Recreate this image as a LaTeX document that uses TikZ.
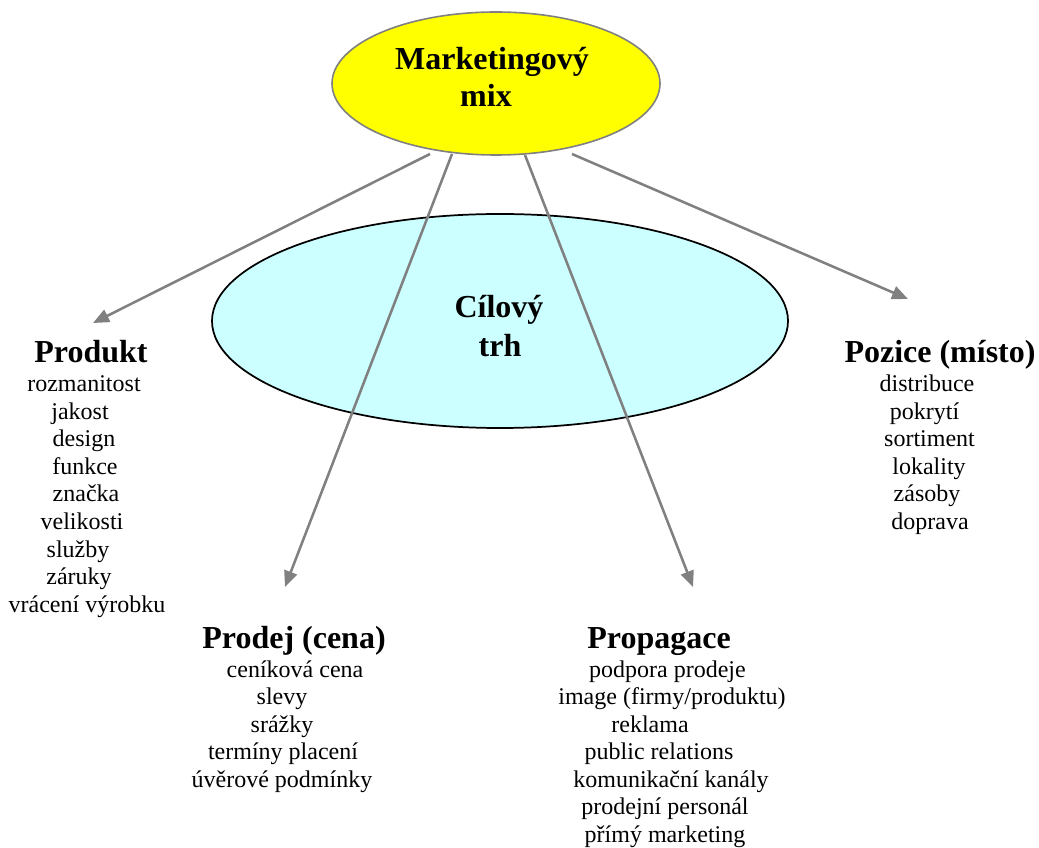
\documentclass[tikz,border=0pt]{standalone}
\usepackage{fontspec}
\setmainfont{Liberation Serif}
\usetikzlibrary{shapes.geometric,arrows.meta}
\definecolor{mixyellow}{RGB}{255,255,0}
\definecolor{trhcyan}{RGB}{204,255,255}
\definecolor{arrowgray}{RGB}{128,128,128}
\begin{document}
\begin{tikzpicture}[x=0.75pt,y=-0.75pt,
  head/.style={font=\fontsize{24}{28}\selectfont\bfseries, anchor=base, inner sep=0pt},
  item/.style={font=\fontsize{18}{20}\selectfont, anchor=base, inner sep=0pt},
  blob/.style={ellipse, inner sep=0pt},
  link/.style={draw=arrowgray, line width=1.9pt, -{Triangle[length=12pt,width=10pt]}}]
\useasboundingbox (0,0) rectangle (1039,848);

% target market ellipse
\node[blob, draw=black, line width=1.3pt, fill=trhcyan,
      minimum width=432pt, minimum height=160.5pt] (trh) at (500,321) {};
\node[head] (trh1) at (499,318) {Cílový};
\node[head] (trh2) at (500,357) {trh};

% arrow end points
\coordinate (s1) at (430,154);
\coordinate (s2) at (452,154);
\coordinate (s3) at (525,155);
\coordinate (s4) at (572,154);
\coordinate (t1) at (93,323);
\coordinate (t2) at (285,587);
\coordinate (t3) at (693,587);
\coordinate (t4) at (908,299);
\draw[link] (s1) -- (t1);
\draw[link] (s2) -- (t2);
\draw[link] (s3) -- (t3);
\draw[link] (s4) -- (t4);

% marketing mix ellipse
\node[blob, draw=arrowgray, line width=1.2pt, fill=mixyellow,
      minimum width=246pt, minimum height=107.25pt] (mix) at (496,83.5) {};
\node[head] (mix1) at (492,70) {Marketingový};
\node[head] (mix2) at (486,107) {mix};

% Produkt
\node[head] (pd) at (91,363) {Produkt};
\node[item] (pd1) at (84,392) {rozmanitost};
\node[item] (pd2) at (80,419.5) {jakost};
\node[item] (pd3) at (84,447) {design};
\node[item] (pd4) at (85,474.5) {funkce};
\node[item] (pd5) at (86,502) {značka};
\node[item] (pd6) at (82,529.5) {velikosti};
\node[item] (pd7) at (78,557) {služby};
\node[item] (pd8) at (79,584.5) {záruky};
\node[item] (pd9) at (87,612) {vrácení výrobku};

% Pozice
\node[head] (pz) at (940,363) {Pozice (místo)};
\node[item] (pz1) at (927,392) {distribuce};
\node[item] (pz2) at (924.5,419.5) {pokrytí};
\node[item] (pz3) at (929.5,447) {sortiment};
\node[item] (pz4) at (929,474.5) {lokality};
\node[item] (pz5) at (927,502) {zásoby};
\node[item] (pz6) at (930,529.5) {doprava};

% Prodej
\node[head] (pc) at (294,648) {Prodej (cena)};
\node[item] (pc1) at (295,677) {ceníková cena};
\node[item] (pc2) at (282,704.5) {slevy};
\node[item] (pc3) at (282,732) {srážky};
\node[item] (pc4) at (283,759.5) {termíny placení};
\node[item] (pc5) at (282,787) {úvěrové podmínky};

% Propagace
\node[head] (pg) at (659,648) {Propagace};
\node[item] (pg1) at (667.5,677) {podpora prodeje};
\node[item] (pg2) at (672,704.5) {image (firmy/produktu)};
\node[item] (pg3) at (650,732) {reklama};
\node[item] (pg4) at (659,759.5) {public relations};
\node[item] (pg5) at (671,787) {komunikační kanály};
\node[item] (pg6) at (665,814.5) {prodejní personál};
\node[item] (pg7) at (665,842) {přímý marketing};
\end{tikzpicture}
\end{document}
